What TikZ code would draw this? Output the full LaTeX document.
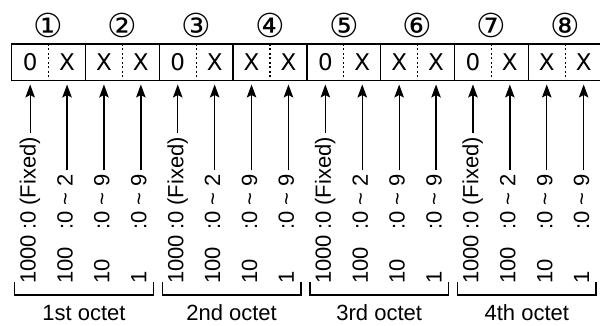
\documentclass[tikz,border=0pt]{standalone}
\usepackage{fontspec}
\setmainfont{Liberation Sans}
\newfontfamily\boxfont{DejaVu Sans}
\usetikzlibrary{arrows.meta}

\begin{document}
\begin{tikzpicture}[
    x=1pt, y=1pt,
    every node/.style = {inner sep=0pt, outer sep=0pt},
    bitcell/.style = {minimum width=36.9pt, minimum height=36.5pt,
      font=\boxfont\fontsize{23}{27}\selectfont},
    circnum/.style = {font=\boxfont\fontsize{33}{37}\selectfont},
    wtlabel/.style = {rotate=90, anchor=base west, font=\fontsize{22}{26}\selectfont},
    rglabel/.style = {rotate=90, anchor=base west, font=\fontsize{22}{26}\selectfont},
    octlabel/.style = {anchor=base, font=\fontsize{22}{26}\selectfont},
    sep/.style = {dash pattern=on 2pt off 2.5pt},
    pointer/.style = {->, shorten <=4pt, shorten >=4pt},
    >={Stealth[length=13pt,width=9.5pt,inset=2.5pt]},
    line width=1.3pt
  ]
  \useasboundingbox (0,0) rectangle (600,326);

  % 1st octet
  \begin{scope}[shift={(11.7,0)}]
    \node[bitcell] (a1) at (18.45,263.75) {0};
    \node[bitcell] (b1) at (55.35,263.75) {X};
    \node[bitcell] (c1) at (92.25,263.75) {X};
    \node[bitcell] (d1) at (129.15,263.75) {X};
    \draw[sep] (a1.north east) -- (a1.south east);
    \draw (b1.north east) -- (b1.south east);
    \draw[sep] (c1.north east) -- (c1.south east);
    \draw (d1.north east) -- (d1.south east);
    \node[circnum] (p1) at ([yshift=19pt]a1.north east) {①};
    \node[circnum] (q1) at ([yshift=19pt]c1.north east) {②};
    \node[wtlabel] (wa1) at (23.95,42) {1000};
    \node[wtlabel] (wb1) at (60.85,42) {100};
    \node[wtlabel] (wc1) at (97.75,42) {10};
    \node[wtlabel] (wd1) at (134.65,42) {1};
    \node[rglabel] (ra1) at (23.95,96) {:0 (Fixed)};
    \node[rglabel] (rb1) at (60.85,96) {:0 \textasciitilde\ 2};
    \node[rglabel] (rc1) at (97.75,96) {:0 \textasciitilde\ 9};
    \node[rglabel] (rd1) at (134.65,96) {:0 \textasciitilde\ 9};
    \draw[pointer] (ra1.east -| a1.south) -- (a1.south);
    \draw[pointer] (rb1.east -| b1.south) -- (b1.south);
    \draw[pointer] (rc1.east -| c1.south) -- (c1.south);
    \draw[pointer] (rd1.east -| d1.south) -- (d1.south);
    \draw (3,44) -- (3,31) -- (141.6,31) -- (141.6,44);
    \node[octlabel] (o1) at (72.3,5) {1st octet};
  \end{scope}

  % 2nd octet
  \begin{scope}[shift={(159.3,0)}]
    \node[bitcell] (a2) at (18.45,263.75) {0};
    \node[bitcell] (b2) at (55.35,263.75) {X};
    \node[bitcell] (c2) at (92.25,263.75) {X};
    \node[bitcell] (d2) at (129.15,263.75) {X};
    \draw[sep] (a2.north east) -- (a2.south east);
    \draw (b2.north east) -- (b2.south east);
    \draw[sep] (c2.north east) -- (c2.south east);
    \draw (d2.north east) -- (d2.south east);
    \node[circnum] (p2) at ([yshift=19pt]a2.north east) {③};
    \node[circnum] (q2) at ([yshift=19pt]c2.north east) {④};
    \node[wtlabel] (wa2) at (23.95,42) {1000};
    \node[wtlabel] (wb2) at (60.85,42) {100};
    \node[wtlabel] (wc2) at (97.75,42) {10};
    \node[wtlabel] (wd2) at (134.65,42) {1};
    \node[rglabel] (ra2) at (23.95,96) {:0 (Fixed)};
    \node[rglabel] (rb2) at (60.85,96) {:0 \textasciitilde\ 2};
    \node[rglabel] (rc2) at (97.75,96) {:0 \textasciitilde\ 9};
    \node[rglabel] (rd2) at (134.65,96) {:0 \textasciitilde\ 9};
    \draw[pointer] (ra2.east -| a2.south) -- (a2.south);
    \draw[pointer] (rb2.east -| b2.south) -- (b2.south);
    \draw[pointer] (rc2.east -| c2.south) -- (c2.south);
    \draw[pointer] (rd2.east -| d2.south) -- (d2.south);
    \draw (3,44) -- (3,31) -- (141.6,31) -- (141.6,44);
    \node[octlabel] (o2) at (72.3,5) {2nd octet};
  \end{scope}

  % 3rd octet
  \begin{scope}[shift={(306.9,0)}]
    \node[bitcell] (a3) at (18.45,263.75) {0};
    \node[bitcell] (b3) at (55.35,263.75) {X};
    \node[bitcell] (c3) at (92.25,263.75) {X};
    \node[bitcell] (d3) at (129.15,263.75) {X};
    \draw[sep] (a3.north east) -- (a3.south east);
    \draw (b3.north east) -- (b3.south east);
    \draw[sep] (c3.north east) -- (c3.south east);
    \draw (d3.north east) -- (d3.south east);
    \node[circnum] (p3) at ([yshift=19pt]a3.north east) {⑤};
    \node[circnum] (q3) at ([yshift=19pt]c3.north east) {⑥};
    \node[wtlabel] (wa3) at (23.95,42) {1000};
    \node[wtlabel] (wb3) at (60.85,42) {100};
    \node[wtlabel] (wc3) at (97.75,42) {10};
    \node[wtlabel] (wd3) at (134.65,42) {1};
    \node[rglabel] (ra3) at (23.95,96) {:0 (Fixed)};
    \node[rglabel] (rb3) at (60.85,96) {:0 \textasciitilde\ 2};
    \node[rglabel] (rc3) at (97.75,96) {:0 \textasciitilde\ 9};
    \node[rglabel] (rd3) at (134.65,96) {:0 \textasciitilde\ 9};
    \draw[pointer] (ra3.east -| a3.south) -- (a3.south);
    \draw[pointer] (rb3.east -| b3.south) -- (b3.south);
    \draw[pointer] (rc3.east -| c3.south) -- (c3.south);
    \draw[pointer] (rd3.east -| d3.south) -- (d3.south);
    \draw (3,44) -- (3,31) -- (141.6,31) -- (141.6,44);
    \node[octlabel] (o3) at (72.3,5) {3rd octet};
  \end{scope}

  % 4th octet
  \begin{scope}[shift={(454.5,0)}]
    \node[bitcell] (a4) at (18.45,263.75) {0};
    \node[bitcell] (b4) at (55.35,263.75) {X};
    \node[bitcell] (c4) at (92.25,263.75) {X};
    \node[bitcell] (d4) at (129.15,263.75) {X};
    \draw[sep] (a4.north east) -- (a4.south east);
    \draw (b4.north east) -- (b4.south east);
    \draw[sep] (c4.north east) -- (c4.south east);
    \node[circnum] (p4) at ([yshift=19pt]a4.north east) {⑦};
    \node[circnum] (q4) at ([yshift=19pt]c4.north east) {⑧};
    \node[wtlabel] (wa4) at (23.95,42) {1000};
    \node[wtlabel] (wb4) at (60.85,42) {100};
    \node[wtlabel] (wc4) at (97.75,42) {10};
    \node[wtlabel] (wd4) at (134.65,42) {1};
    \node[rglabel] (ra4) at (23.95,96) {:0 (Fixed)};
    \node[rglabel] (rb4) at (60.85,96) {:0 \textasciitilde\ 2};
    \node[rglabel] (rc4) at (97.75,96) {:0 \textasciitilde\ 9};
    \node[rglabel] (rd4) at (134.65,96) {:0 \textasciitilde\ 9};
    \draw[pointer] (ra4.east -| a4.south) -- (a4.south);
    \draw[pointer] (rb4.east -| b4.south) -- (b4.south);
    \draw[pointer] (rc4.east -| c4.south) -- (c4.south);
    \draw[pointer] (rd4.east -| d4.south) -- (d4.south);
    \draw (3,44) -- (3,31) -- (141.6,31) -- (141.6,44);
    \node[octlabel] (o4) at (72.3,5) {4th octet};
  \end{scope}

  \draw[line width=1.4pt] (a1.north west) rectangle (d4.south east);
\end{tikzpicture}
\end{document}
